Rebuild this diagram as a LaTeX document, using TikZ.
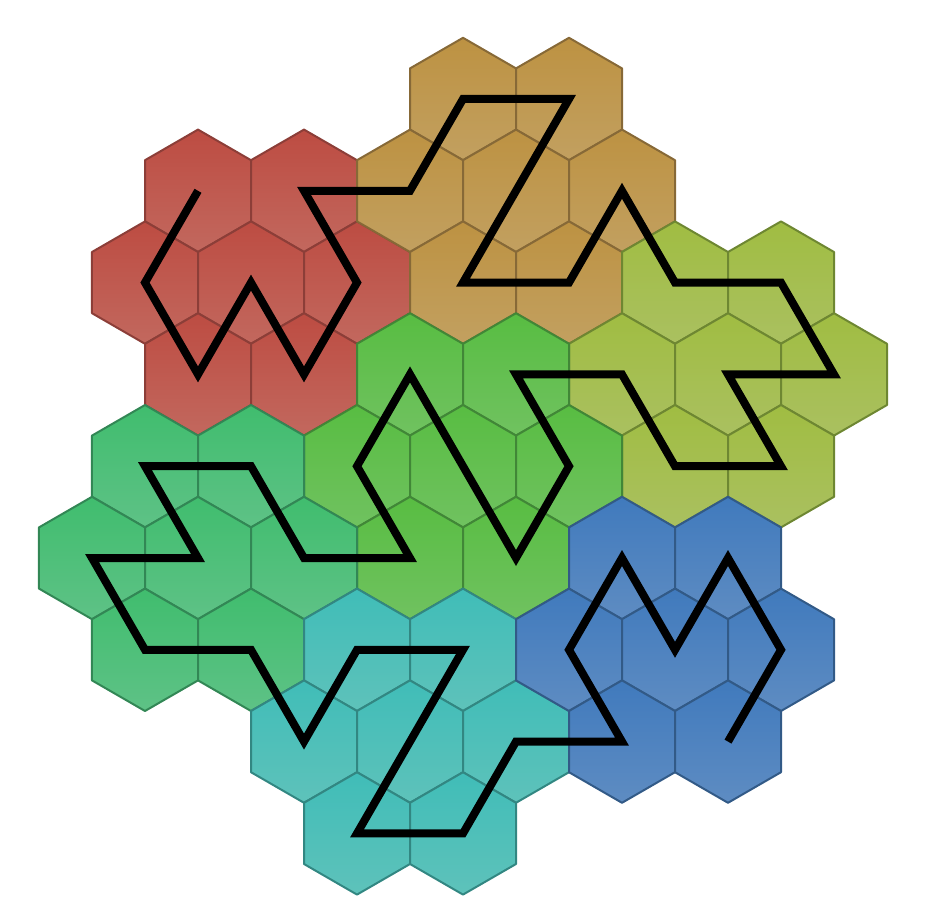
\documentclass[tikz,border=0pt]{standalone}
\definecolor{redT}{RGB}{189,76,66}\definecolor{redB}{RGB}{194,104,94}\definecolor{redD}{RGB}{140,62,56}
\definecolor{goldT}{RGB}{189,146,66}\definecolor{goldB}{RGB}{194,160,96}\definecolor{goldD}{RGB}{135,105,55}
\definecolor{ygT}{RGB}{160,189,66}\definecolor{ygB}{RGB}{170,192,96}\definecolor{ygD}{RGB}{110,135,50}
\definecolor{grT}{RGB}{88,189,66}\definecolor{grB}{RGB}{112,194,96}\definecolor{grD}{RGB}{65,135,55}
\definecolor{emT}{RGB}{64,189,110}\definecolor{emB}{RGB}{94,194,134}\definecolor{emD}{RGB}{50,135,85}
\definecolor{teT}{RGB}{64,189,184}\definecolor{teB}{RGB}{94,194,186}\definecolor{teD}{RGB}{50,135,130}
\definecolor{blT}{RGB}{64,122,189}\definecolor{blB}{RGB}{94,140,194}\definecolor{blD}{RGB}{50,90,135}
\newcommand\hexcell[3]{%
  \coordinate (h#1-#2) at ({92+53*#1},{99+91.8*#2});
  \path[hexcell,#3] (h#1-#2) +(30:61.2) -- +(90:61.2) -- +(150:61.2) -- +(210:61.2) -- +(270:61.2) -- +(330:61.2) -- cycle;}
\begin{document}
\begin{tikzpicture}[x=1pt,y=-1pt,
  hexcell/.style={line width=2pt, line join=round},
  hexR/.style={draw=redD, top color=redT, bottom color=redB},
  hexG/.style={draw=goldD, top color=goldT, bottom color=goldB},
  hexY/.style={draw=ygD, top color=ygT, bottom color=ygB},
  hexN/.style={draw=grD, top color=grT, bottom color=grB},
  hexE/.style={draw=emD, top color=emT, bottom color=emB},
  hexT/.style={draw=teD, top color=teT, bottom color=teB},
  hexB/.style={draw=blD, top color=blT, bottom color=blB},
  curve/.style={draw=black, line width=8pt, line join=miter}]
\useasboundingbox (0,0) rectangle (927,915);
\foreach \i/\j in {2/1,4/1,1/2,3/2,5/2,2/3,4/3} {\hexcell{\i}{\j}{hexR}}
\foreach \i/\j in {7/0,9/0,6/1,8/1,10/1,7/2,9/2} {\hexcell{\i}{\j}{hexG}}
\foreach \i/\j in {11/2,13/2,10/3,12/3,14/3,11/4,13/4} {\hexcell{\i}{\j}{hexY}}
\foreach \i/\j in {6/3,8/3,5/4,7/4,9/4,6/5,8/5} {\hexcell{\i}{\j}{hexN}}
\foreach \i/\j in {1/4,3/4,0/5,2/5,4/5,1/6,3/6} {\hexcell{\i}{\j}{hexE}}
\foreach \i/\j in {5/6,7/6,4/7,6/7,8/7,5/8,7/8} {\hexcell{\i}{\j}{hexT}}
\foreach \i/\j in {10/5,12/5,9/6,11/6,13/6,10/7,12/7} {\hexcell{\i}{\j}{hexB}}
\foreach \i/\j in {2/1,4/1,1/2,3/2,5/2,2/3,4/3,7/0,9/0,6/1,8/1,10/1,7/2,9/2,11/2,13/2,10/3,12/3,14/3,11/4,13/4,6/3,8/3,5/4,7/4,9/4,6/5,8/5,1/4,3/4,0/5,2/5,4/5,1/6,3/6,5/6,7/6,4/7,6/7,8/7,5/8,7/8,10/5,12/5,9/6,11/6,13/6,10/7,12/7}
  {\coordinate (h\i-\j) at ({92+53*\i},{99+91.8*\j});}
\draw[curve] (h2-1) -- (h1-2) -- (h2-3) -- (h3-2) -- (h4-3) -- (h5-2) -- (h4-1) -- (h6-1) -- (h7-0) -- (h9-0) -- (h7-2) -- (h9-2) -- (h10-1) -- (h11-2) -- (h13-2) -- (h14-3) -- (h12-3) -- (h13-4) -- (h11-4) -- (h10-3) -- (h8-3) -- (h9-4) -- (h8-5) -- (h6-3) -- (h5-4) -- (h6-5) -- (h4-5) -- (h3-4) -- (h1-4) -- (h2-5) -- (h0-5) -- (h1-6) -- (h3-6) -- (h4-7) -- (h5-6) -- (h7-6) -- (h5-8) -- (h7-8) -- (h8-7) -- (h10-7) -- (h9-6) -- (h10-5) -- (h11-6) -- (h12-5) -- (h13-6) -- (h12-7);
\end{tikzpicture}
\end{document}
